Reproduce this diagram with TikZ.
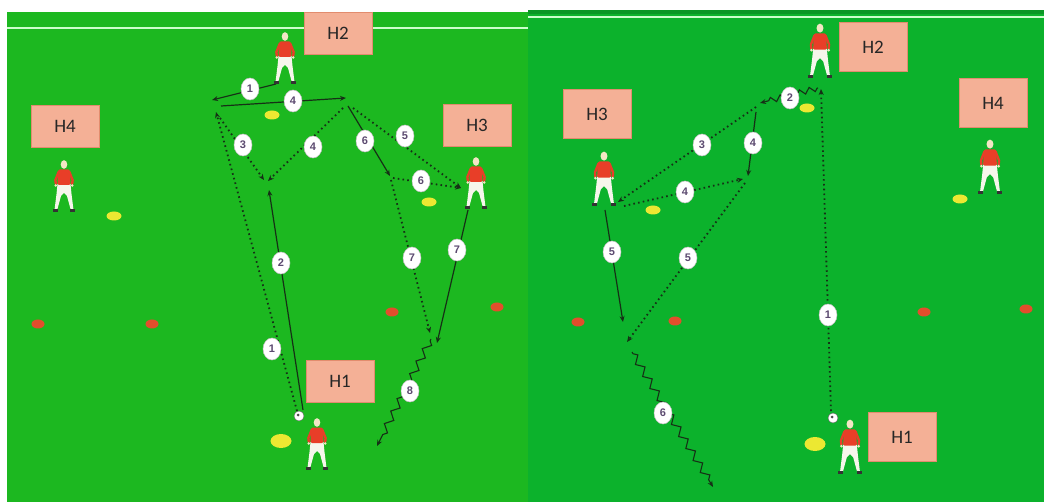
\documentclass[tikz,border=0pt]{standalone}
\usepackage{fontspec}
\setmainfont{Carlito}
\newfontfamily\numfont{Liberation Sans}
\usetikzlibrary{arrows.meta,shapes.geometric,decorations.pathmorphing}

\definecolor{pitchL}{RGB}{28,184,32}
\definecolor{pitchR}{RGB}{12,178,44}
\definecolor{tagfill}{RGB}{244,176,150}
\definecolor{tagedge}{RGB}{226,140,110}
\definecolor{shirt}{RGB}{232,62,40}
\definecolor{skin}{RGB}{243,230,196}
\definecolor{kit}{RGB}{246,246,236}
\definecolor{ink}{RGB}{22,48,22}
\definecolor{conecol}{RGB}{236,232,50}
\definecolor{markcol}{RGB}{226,78,44}
\definecolor{numink}{RGB}{92,74,112}

\tikzset{
  player/.pic={
    % legs and shorts
    \fill[kit] (-6.5,-28) -- (6.5,-28) -- (7.5,-18) -- (9.5,-2) -- (6.8,-2) -- (3,-16) -- (0,-19)
      -- (-3,-16) -- (-6.8,-2) -- (-9.5,-2) -- (-7.5,-18) -- cycle;
    % shoes
    \fill[black!80] (-11,-2.6) rectangle (-6.3,0);
    \fill[black!80] (6.3,-2.6) rectangle (11,0);
    % arms
    \draw[shirt, line width=2.4pt, line cap=round] (-5.2,-40.5) -- (-8.6,-32) -- (-8.2,-28);
    \draw[shirt, line width=2.4pt, line cap=round] (5.2,-40.5) -- (8.6,-32) -- (8.2,-28);
    \fill[skin] (-8.2,-26.5) circle (1.4);
    \fill[skin] (8.2,-26.5) circle (1.4);
    % shirt
    \fill[shirt, rounded corners=1.5pt] (-5.8,-42.5) -- (5.8,-42.5) -- (6.6,-27) -- (-6.6,-27) -- cycle;
    % head
    \fill[skin] (0,-47.5) ellipse (3.3 and 4.3);
  },
  tagbox/.style={draw=tagedge, fill=tagfill, line width=0.8pt, inner sep=0pt,
    minimum width=68pt, minimum height=42pt, text=black!85,
    font=\fontsize{19}{19}\selectfont},
  num/.style={ellipse, fill=white, draw=black!25, line width=0.5pt, inner sep=0pt,
    minimum width=18pt, minimum height=22pt, text=numink,
    font=\numfont\bfseries\fontsize{11}{11}\selectfont},
  tipstyle/.style={-{Stealth[length=6pt,width=5pt]}},
  pass/.style={draw=ink, line width=1.2pt, tipstyle},
  run/.style={draw=ink, line width=1.8pt, dash pattern=on 1.6pt off 3.2pt, tipstyle},
  dribble/.style={draw=ink, line width=1.1pt, tipstyle, decorate,
    decoration={zigzag, segment length=14pt, amplitude=3.5pt, pre length=2pt, post length=6pt}},
  conemark/.style={fill=conecol},
  dotmark/.style={fill=markcol},
  fieldline/.style={draw=white!80!green, line width=2.6pt},
  ballmark/.style={circle, fill=white, draw=black!60, line width=0.4pt, minimum size=10pt, inner sep=0pt},
}

\begin{document}
\begin{tikzpicture}[x=1pt,y=-1pt]
\useasboundingbox (0,0) rectangle (1044,502);
\fill[white] (0,0) rectangle (1044,502);

% two pitch panels
\fill[pitchL] (7,12) rectangle (528,502);
\fill[pitchR] (528,10) rectangle (1044,502);
\fill[pitchR!85!black] (528,10) rectangle (1044,14);
\draw[fieldline] (7,28) -- (528,28);
\draw[fieldline] (528,17) -- (1044,17);

% ---------- left drill ----------
% end points of the movements
\coordinate (LbH2) at (276,84);
\coordinate (Lp1) at (212,100);
\coordinate (Lp4s) at (221,106);
\coordinate (Lp4e) at (346,98);
\coordinate (LrTop) at (216,112);
\coordinate (Lr3s) at (220,118);
\coordinate (Lmid) at (264,180);
\coordinate (Lr4s) at (343,108);
\coordinate (Lr4e) at (268,181);
\coordinate (Lp2e) at (269,190);
\coordinate (Lp2s) at (303,410);
\coordinate (LrBall) at (297,411);
\coordinate (Lp6s) at (348,106);
\coordinate (Lp6e) at (390,176);
\coordinate (Lr5s) at (353,108);
\coordinate (LatH3) at (461,188);
\coordinate (Lr6s) at (393,178);
\coordinate (Lr7s) at (391,180);
\coordinate (Lr7e) at (430,333);
\coordinate (Lp7s) at (468,210);
\coordinate (Lp7e) at (437,343);
\coordinate (Ld8s) at (431,339);
\coordinate (Ld8e) at (377,446);

\draw[pass] (LbH2) -- (Lp1);
\draw[pass] (Lp4s) -- (Lp4e);
\draw[run] (LrBall) -- (LrTop);
\draw[run] (Lr3s) -- (Lmid);
\draw[run] (Lr4s) -- (Lr4e);
\draw[pass] (Lp2s) -- (Lp2e);
\draw[pass] (Lp6s) -- (Lp6e);
\draw[run] (Lr5s) -- (LatH3);
\draw[run] (Lr6s) -- (LatH3);
\draw[run] (Lr7s) -- (Lr7e);
\draw[pass] (Lp7s) -- (Lp7e);
\draw[dribble] (Ld8s) -- (Ld8e);

% cones and markers
\fill[conemark] (272,115) ellipse (7.5 and 4.5);
\fill[conemark] (114,216) ellipse (7.5 and 4.5);
\fill[conemark] (429,202) ellipse (7.5 and 4.5);
\fill[conemark] (281,441) ellipse (10.5 and 7);
\fill[dotmark] (38,324) ellipse (6.5 and 4.5);
\fill[dotmark] (152,324) ellipse (6.5 and 4.5);
\fill[dotmark] (392,312) ellipse (6.5 and 4.5);
\fill[dotmark] (497,307) ellipse (6.5 and 4.5);

% players
\pic (LpH2) at (285,84) {player};
\pic (LpH4) at (64,212) {player};
\pic (LpH3) at (476,209) {player};
\pic (LpH1) at (317,470) {player};

% ball
\node[ballmark] (Lball) at (299,416) {};
\fill[black!70] (298,415) circle (1.5);

% step numbers
\node[num] (Ln1a) at (250,89) {1};
\node[num] (Ln4a) at (293,101) {4};
\node[num] (Ln3) at (243,145) {3};
\node[num] (Ln4b) at (313,147) {4};
\node[num] (Ln6a) at (365,141) {6};
\node[num] (Ln5) at (405,136) {5};
\node[num] (Ln6b) at (421,181) {6};
\node[num] (Ln7a) at (412,258) {7};
\node[num] (Ln7b) at (457,250) {7};
\node[num] (Ln2) at (281,263) {2};
\node[num] (Ln1b) at (272,349) {1};
\node[num] (Ln8) at (410,391) {8};

% player tags
\node[tagbox] (LH2) at (338,33) {H2};
\node[tagbox] (LH4) at (65,126) {H4};
\node[tagbox] (LH3) at (477,125) {H3};
\node[tagbox] (LH1) at (340,381) {H1};

% ---------- right drill ----------
\coordinate (Rd2s) at (818,88);
\coordinate (Rd2e) at (760,103);
\coordinate (RrBall) at (831,411);
\coordinate (RrTop) at (821,89);
\coordinate (Rr3s) at (756,107);
\coordinate (Rr3e) at (618,202);
\coordinate (Rp4s) at (756,112);
\coordinate (Rp4e) at (748,176);
\coordinate (Rr4s) at (624,206);
\coordinate (Rr4e) at (743,179);
\coordinate (Rr5s) at (745,183);
\coordinate (Rr5e) at (627,342);
\coordinate (Rp5s) at (605,210);
\coordinate (Rp5e) at (623,322);
\coordinate (Rd6s) at (632,352);
\coordinate (Rd6e) at (713,487);

\draw[dribble, decoration={segment length=10pt, amplitude=2.8pt, pre length=1pt, post length=5pt}] (Rd2s) -- (Rd2e);
\draw[run] (RrBall) -- (RrTop);
\draw[run] (Rr3s) -- (Rr3e);
\draw[pass] (Rp4s) -- (Rp4e);
\draw[run] (Rr4s) -- (Rr4e);
\draw[run] (Rr5s) -- (Rr5e);
\draw[pass] (Rp5s) -- (Rp5e);
\draw[dribble] (Rd6s) -- (Rd6e);

\fill[conemark] (807,108) ellipse (7.5 and 4.5);
\fill[conemark] (653,210) ellipse (7.5 and 4.5);
\fill[conemark] (960,199) ellipse (7.5 and 4.5);
\fill[conemark] (815,444) ellipse (10.5 and 7);
\fill[dotmark] (578,322) ellipse (6.5 and 4.5);
\fill[dotmark] (675,321) ellipse (6.5 and 4.5);
\fill[dotmark] (924,312) ellipse (6.5 and 4.5);
\fill[dotmark] (1026,309) ellipse (6.5 and 4.5);

\pic[scale=1.05] (RpH2) at (820,78) {player};
\pic[scale=1.05] (RpH3) at (604,206) {player};
\pic[scale=1.05] (RpH4) at (990,194) {player};
\pic[scale=1.05] (RpH1) at (850,474) {player};

\node[ballmark] (Rball) at (833,418) {};
\fill[black!70] (832,417) circle (1.5);

\node[num] (Rn2) at (790,98) {2};
\node[num] (Rn1) at (828,315) {1};
\node[num] (Rn3) at (702,145) {3};
\node[num] (Rn4a) at (753,143) {4};
\node[num] (Rn4b) at (685,192) {4};
\node[num] (Rn5a) at (612,252) {5};
\node[num] (Rn5b) at (688,258) {5};
\node[num] (Rn6) at (663,413) {6};

\node[tagbox, minimum height=49pt] (RH2) at (873,47) {H2};
\node[tagbox, minimum height=49pt] (RH4) at (993,103) {H4};
\node[tagbox, minimum height=49pt] (RH3) at (597,114) {H3};
\node[tagbox, minimum height=49pt] (RH1) at (902,437) {H1};
\end{tikzpicture}
\end{document}
